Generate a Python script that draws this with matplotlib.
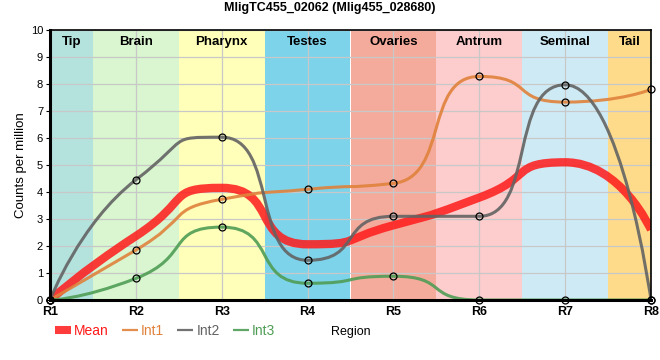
import numpy as np
import matplotlib.pyplot as plt
from matplotlib.lines import Line2D
from matplotlib.path import Path
from matplotlib.patches import PathPatch

plt.rcParams['font.family'] = ['Liberation Sans', 'DejaVu Sans']

# Data
regions = ['R1', 'R2', 'R3', 'R4', 'R5', 'R6', 'R7', 'R8']
int1 = [0, 1.85, 3.73, 4.10, 4.32, 8.28, 7.33, 7.80]
int2 = [0, 4.45, 6.03, 1.47, 3.10, 3.10, 7.97, 0]
int3 = [0, 0.80, 2.70, 0.62, 0.88, 0, 0, 0]

tissues = ['Tip', 'Brain', 'Pharynx', 'Testes', 'Ovaries', 'Antrum', 'Seminal', 'Tail']
tissue_spans = [(1, 1.5), (1.5, 2.5), (2.5, 3.5), (3.5, 4.5), (4.5, 5.5), (5.5, 6.5), (6.5, 7.5), (7.5, 8)]
tissue_colors = ['#b4e3de', '#d9f6d0', '#ffffb9', '#7cd3ea', '#f4ab9c', '#fdcccc', '#ceebf5', '#fedb8b']

x = np.arange(1, len(regions) + 1)
mean = np.mean([int1, int2, int3], axis=0)


def spline_path(xs, ys, k=0.65):
    # bezier spline, handles k*dx long, flat at local extremes
    xs = np.asarray(xs, float)
    ys = np.asarray(ys, float)
    n = len(xs)
    left = [None] * n
    right = [None] * n
    for i in range(1, n - 1):
        px, py = xs[i], ys[i]
        lx = px - k * (px - xs[i - 1])
        rx = px + k * (xs[i + 1] - px)
        slope = (ys[i + 1] - ys[i - 1]) / (xs[i + 1] - xs[i - 1])
        ly = py - slope * (px - lx)
        ry = py + slope * (rx - px)
        if ly > ys[i - 1] and ly > py:
            ly = max(ys[i - 1], py)
            ry = 2 * py - ly
        elif ly < ys[i - 1] and ly < py:
            ly = min(ys[i - 1], py)
            ry = 2 * py - ly
        if ry > ys[i + 1] and ry > py:
            ry = max(ys[i + 1], py)
            ly = 2 * py - ry
        elif ry < ys[i + 1] and ry < py:
            ry = min(ys[i + 1], py)
            ly = 2 * py - ry
        left[i] = (lx, ly)
        right[i] = (rx, ry)
    verts = [(xs[0], ys[0])]
    codes = [Path.MOVETO]
    for i in range(1, n):
        c1 = right[i - 1] if right[i - 1] is not None else (xs[i - 1], ys[i - 1])
        c2 = left[i] if left[i] is not None else (xs[i], ys[i])
        verts += [c1, c2, (xs[i], ys[i])]
        codes += [Path.CURVE4] * 3
    return Path(verts, codes)


fig = plt.figure(figsize=(6.6, 3.6), dpi=100)
ax = fig.add_axes([50 / 660, 60 / 360, 601 / 660, 270 / 360])

for (a, b), c, name in zip(tissue_spans, tissue_colors, tissues):
    ax.axvspan(a, b, color=c, lw=0, zorder=0)
    ax.text((a + b) / 2, 9.55, name, ha='center', va='center',
            fontsize=9.5, fontweight='bold', zorder=5)

series = [('Mean', mean, '#ff1a1a', 6.0, 0.85),
          ('Int1', int1, '#e0823c', 2.2, 0.9),
          ('Int2', int2, '#636363', 2.2, 0.9),
          ('Int3', int3, '#4f9d55', 2.2, 0.9)]

handles = []
for name, ys, col, lw, al in series:
    ax.add_patch(PathPatch(spline_path(x, ys), fill=False, edgecolor=col, lw=lw,
                           alpha=al, zorder=3, capstyle='butt', joinstyle='round'))
    if name != 'Mean':
        ax.plot(x, ys, 'o', ms=5, mfc='none', mec='black', mew=0.9, zorder=4, clip_on=False)
    handles.append(Line2D([], [], color=col, lw=5.8 if name == 'Mean' else 1.6,
                          alpha=al, solid_capstyle='butt'))

ax.set_xlim(1, 8)
ax.set_ylim(0, 10)
ax.set_xticks(x)
ax.set_xticklabels(regions, fontsize=9, fontweight='bold')
ax.set_yticks(range(0, 11))
ax.tick_params(axis='y', labelsize=8, length=3, pad=2)
ax.tick_params(axis='x', length=0, pad=4)
ax.grid(True, color='#c8c8c8', lw=0.9)
ax.set_axisbelow(False)
for side in ['left', 'bottom']:
    ax.spines[side].set_linewidth(2.2)
for side in ['top', 'right']:
    ax.spines[side].set_linewidth(1.2)
for sp in ax.spines.values():
    sp.set_zorder(6)

ax.set_ylabel('Counts per million', fontsize=9.5, labelpad=3)
fig.text(351 / 660, 1 - 332 / 360, 'Region', ha='center', va='center', fontsize=9)

fig.text(0.5, 0.978, 'MligTC455_02062 (Mlig455_028680)', ha='center', va='center',
         fontsize=9, fontweight='bold')

fig.legend(handles, [s[0] for s in series], loc='center left',
           bbox_to_anchor=(55 / 660, 1 - 331 / 360),
           ncol=4, frameon=False, fontsize=10, labelcolor='linecolor',
           borderpad=0, borderaxespad=0,
           handlelength=1.15, handletextpad=0.22, columnspacing=0.95)

fig.savefig('out.png', dpi=100)
